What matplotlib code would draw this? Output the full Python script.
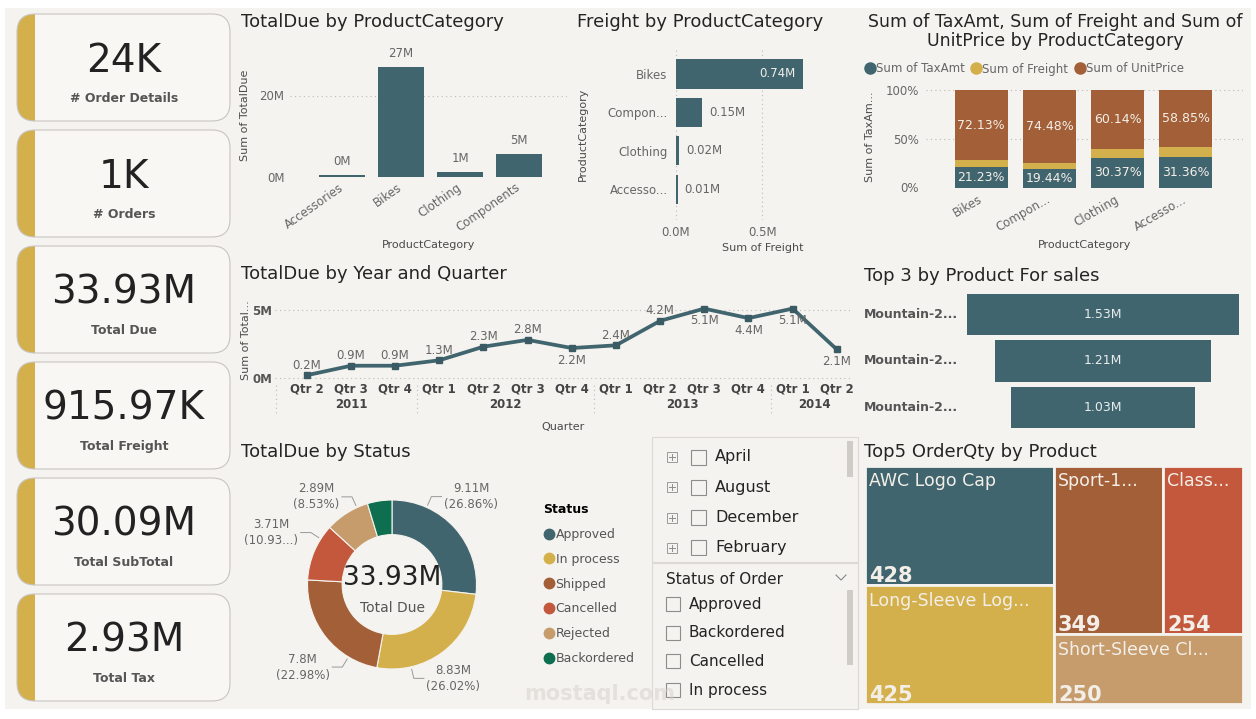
import numpy as np
import matplotlib.pyplot as plt
from matplotlib.patches import FancyBboxPatch, Rectangle
from matplotlib.lines import Line2D
from matplotlib.transforms import blended_transform_factory

plt.rcParams['font.family'] = ['DejaVu Sans']

kpi_values = ['24K', '1K', '33.93M', '915.97K', '30.09M', '2.93M']
kpi_labels = ['# Order Details', '# Orders', 'Total Due', 'Total Freight', 'Total SubTotal', 'Total Tax']

cat_names = ['Accessories', 'Bikes', 'Clothing', 'Components']
cat_totaldue = [0.45e6, 27.0e6, 1.05e6, 5.45e6]

freight_cats = ['Bikes', 'Compon...', 'Clothing', 'Accesso...']
freight_vals = [0.74e6, 0.15e6, 0.02e6, 0.01e6]

mix_cats = ['Bikes', 'Compon...', 'Clothing', 'Accesso...']
mix_tax = [21.23, 19.44, 30.37, 31.36]
mix_freight = [6.64, 6.08, 9.49, 9.79]
mix_unit = [72.13, 74.48, 60.14, 58.85]
mix_series = ['Sum of TaxAmt', 'Sum of Freight', 'Sum of UnitPrice']

quarters = ['Qtr 2', 'Qtr 3', 'Qtr 4', 'Qtr 1', 'Qtr 2', 'Qtr 3', 'Qtr 4',
            'Qtr 1', 'Qtr 2', 'Qtr 3', 'Qtr 4', 'Qtr 1', 'Qtr 2']
quarter_years = ['2011'] * 3 + ['2012'] * 4 + ['2013'] * 4 + ['2014'] * 2
due_quarter_m = [0.2, 0.9, 0.9, 1.3, 2.3, 2.8, 2.2, 2.4, 4.2, 5.1, 4.4, 5.1, 2.1]

top3_products = ['Mountain-2...', 'Mountain-2...', 'Mountain-2...']
top3_sales_m = [1.53, 1.21, 1.03]

status_names = ['Approved', 'In process', 'Shipped', 'Cancelled', 'Rejected', 'Backordered']
status_due_m = [9.11, 8.83, 7.8, 3.71, 2.89, 1.59]
status_pct_text = ['(26.86%)', '(26.02%)', '(22.98%)', '(10.93...)', '(8.53%)', '']

month_items = ['April', 'August', 'December', 'February']
status_items = ['Approved', 'Backordered', 'Cancelled', 'In process']

tree_names = ['AWC Logo Cap', 'Long-Sleeve Log...', 'Sport-1...', 'Class...', 'Short-Sleeve Cl...']
tree_qty = [428, 425, 349, 254, 250]

# ---- colours ----
PAGE = '#F5F3EF'
CARD = '#F8F7F4'
TEAL = '#41656F'
GOLD = '#D4B04C'
BROWN = '#A35F38'
RED = '#C3583D'
TAN = '#C69C6D'
GREEN = '#0D6E50'
TITLE = '#252423'
TICK = '#666666'
AXT = '#4A4A4A'
LIGHT = '#F3EFE8'

W, H = 1256, 719
fig = plt.figure(figsize=(W / 100, H / 100), dpi=100, facecolor='white')


def px_axes(x0, y0, x1, y1):
    ax = fig.add_axes([x0 / W, 1 - y1 / H, (x1 - x0) / W, (y1 - y0) / H])
    ax.set_facecolor('none')
    for s in ax.spines.values():
        s.set_visible(False)
    ax.tick_params(length=0, labelsize=8.5, labelcolor=TICK)
    return ax


def pt(px):
    return px * 0.72


# background layer in pixel coordinates
bg = fig.add_axes([0, 0, 1, 1], zorder=-10)
bg.set_xlim(0, W)
bg.set_ylim(H, 0)
bg.axis('off')
bg.add_patch(Rectangle((5, 8), 1246, 701, facecolor=PAGE, edgecolor='none'))

# ---- KPI cards ----
for i, (val, lab) in enumerate(zip(kpi_values, kpi_labels)):
    top = 14 + i * 116
    style = 'round,pad=0,rounding_size=18'
    bg.add_patch(FancyBboxPatch((17, top), 213, 107, boxstyle=style, facecolor=GOLD, edgecolor='none'))
    white = FancyBboxPatch((17, top), 213, 107, boxstyle=style, facecolor=CARD, edgecolor='none')
    bg.add_patch(white)
    white.set_clip_path(Rectangle((35, top - 2), 200, 112, transform=bg.transData))
    bg.add_patch(FancyBboxPatch((17, top), 213, 107, boxstyle=style, facecolor='none',
                                edgecolor='#C9C6C1', lw=0.8))
    bg.text(124, top + 58, val, fontsize=28, color='#222222', ha='center', va='baseline')
    bg.text(124, top + 88, lab, fontsize=9, fontweight='bold', color='#555555', ha='center', va='baseline')

# ---- titles ----
for x, y, t in [(241, 27, 'TotalDue by ProductCategory'), (577, 27, 'Freight by ProductCategory'),
                (241, 279, 'TotalDue by Year and Quarter'), (864, 281, 'Top 3 by Product For sales'),
                (241, 457, 'TotalDue by Status'), (864, 457, 'Top5 OrderQty by Product')]:
    bg.text(x, y, t, fontsize=13, color=TITLE, va='baseline')
bg.text(1055, 27, 'Sum of TaxAmt, Sum of Freight and Sum of', fontsize=12.5, color=TITLE, ha='center', va='baseline')
bg.text(1055, 46, 'UnitPrice by ProductCategory', fontsize=12.5, color=TITLE, ha='center', va='baseline')

# ---- TotalDue by ProductCategory ----
ax1 = px_axes(290, 55, 567, 176.5)
ax1.bar(range(len(cat_names)), cat_totaldue, width=0.78, color=TEAL)
ax1.set_xlim(-0.88, 3.81)
ax1.set_ylim(0, 30e6)
ax1.set_yticks([0, 20e6])
ax1.set_yticklabels(['0M', '20M'])
ax1.yaxis.grid(True, linestyle=(0, (1, 3)), color='#BBBBBB', lw=0.8)
ax1.set_axisbelow(True)
ax1.set_xticks(range(len(cat_names)))
ax1.set_xticklabels(cat_names, rotation=35, ha='right', va='center', rotation_mode='anchor')
ax1.tick_params(axis='x', pad=7)
ax1.tick_params(axis='y', pad=4)
for i, v in enumerate(cat_totaldue):
    ax1.annotate(f'{v / 1e6:.0f}M', (i, v), xytext=(0, 5), textcoords='offset points',
                 ha='center', va='bottom', fontsize=8.5, color=TICK)
ax1.set_ylabel('Sum of TotalDue', fontsize=8, color=AXT, labelpad=7)
ax1.set_xlabel('ProductCategory', fontsize=8, color=AXT, labelpad=4)

# ---- Freight by ProductCategory ----
ax2 = px_axes(676, 49, 850, 220)
ax2.barh(range(len(freight_cats)), freight_vals, height=0.76, color=TEAL)
ax2.set_ylim(3.8, -0.65)
ax2.set_xlim(0, 1.01e6)
ax2.set_yticks(range(len(freight_cats)))
ax2.set_yticklabels(freight_cats)
ax2.set_xticks([0, 0.5e6])
ax2.set_xticklabels(['0.0M', '0.5M'])
ax2.xaxis.grid(True, linestyle=(0, (1, 3)), color='#BBBBBB', lw=0.8)
ax2.set_axisbelow(True)
ax2.tick_params(axis='y', pad=6)
ax2.tick_params(axis='x', pad=4)
for i, v in enumerate(freight_vals):
    if v > 0.5 * max(freight_vals):
        ax2.annotate(f'{v / 1e6:.2f}M', (v, i), xytext=(-6, 0), textcoords='offset points',
                     ha='right', va='center', fontsize=8.5, color=LIGHT)
    else:
        ax2.annotate(f'{v / 1e6:.2f}M', (v, i), xytext=(5, 0), textcoords='offset points',
                     ha='left', va='center', fontsize=8.5, color=TICK)
ax2.set_xlabel('Sum of Freight', fontsize=8, color=AXT, labelpad=3)
ax2.set_ylabel('ProductCategory', fontsize=8, color=AXT, labelpad=14)

# ---- 100% stacked by ProductCategory ----
ax3 = px_axes(926, 85, 1243, 187.5)
x3 = np.arange(len(mix_cats))
bottom2 = np.array(mix_tax)
bottom3 = bottom2 + np.array(mix_freight)
ax3.bar(x3, mix_tax, width=0.776, color=TEAL)
ax3.bar(x3, mix_freight, bottom=bottom2, width=0.776, color=GOLD)
ax3.bar(x3, mix_unit, bottom=bottom3, width=0.776, color=BROWN)
ax3.set_xlim(-0.81, 3.84)
ax3.set_ylim(0, 105.2)
ax3.set_yticks([0, 50, 100])
ax3.set_yticklabels(['0%', '50%', '100%'])
ax3.yaxis.grid(True, linestyle=(0, (1, 3)), color='#BBBBBB', lw=0.8)
ax3.set_axisbelow(True)
ax3.set_xticks(x3)
ax3.set_xticklabels(mix_cats, rotation=30, ha='right', va='center', rotation_mode='anchor')
ax3.tick_params(axis='x', pad=8)
ax3.tick_params(axis='y', pad=5)
for i in range(len(mix_cats)):
    ax3.text(i, mix_tax[i] / 2, f'{mix_tax[i]:.2f}%', ha='center', va='center', fontsize=9, color=LIGHT)
    ax3.text(i, bottom3[i] + mix_unit[i] / 2, f'{mix_unit[i]:.2f}%', ha='center', va='center',
             fontsize=9, color=LIGHT)
ax3.set_ylabel('Sum of TaxAm...', fontsize=8, color=AXT, labelpad=8)
ax3.set_xlabel('ProductCategory', fontsize=8, color=AXT, labelpad=4)
handles3 = [Line2D([], [], marker='o', ls='', color=c, ms=8) for c in (TEAL, GOLD, BROWN)]
ax3.legend(handles3, mix_series, ncol=3, loc='center left', bbox_to_anchor=(864 / W, 1 - 69 / H),
           bbox_transform=fig.transFigure, frameon=False, handletextpad=0.0, columnspacing=0.5,
           handlelength=1.0, borderpad=0, borderaxespad=0, labelcolor=TICK, prop={'size': 8.5})

# ---- TotalDue by Year and Quarter ----
ax4 = px_axes(275, 298, 850, 383)
xq = np.arange(len(quarters))
ax4.plot(xq, due_quarter_m, color=TEAL, lw=2.7, marker='s', ms=4.5, mfc='#3B5B64', mec='#3B5B64',
         solid_joinstyle='round')
ax4.set_xlim(-0.72, 12.3)
ax4.set_ylim(-0.37, 5.88)
ax4.set_yticks([0, 5])
ax4.set_yticklabels(['0M', '5M'], fontweight='bold', color='#555555')
ax4.yaxis.grid(True, linestyle=(0, (1, 3)), color='#BBBBBB', lw=0.8)
ax4.set_axisbelow(True)
ax4.set_xticks(xq)
ax4.set_xticklabels(quarters, fontweight='bold', color='#444444')
ax4.tick_params(axis='x', pad=0)
ax4.tick_params(axis='y', pad=2)
label_side = [1, 1, 1, 1, 1, 1, -1, 1, 1, -1, -1, -1, -1]
for i, v in enumerate(due_quarter_m):
    ax4.annotate(f'{v:.1f}M', (i, v), xytext=(0, pt(10) if label_side[i] > 0 else -pt(12)),
                 textcoords='offset points', ha='center', va='center', fontsize=8.5, color=TICK)
years = sorted(set(quarter_years))
for yr in years:
    idx = [i for i, q in enumerate(quarter_years) if q == yr]
    ax4.annotate(yr, (np.mean(idx), 0), xycoords=('data', 'axes fraction'), xytext=(0, -pt(22)),
                 textcoords='offset points', ha='center', va='center', fontsize=8.5,
                 fontweight='bold', color='#444444')
bounds = [-0.7] + [i - 0.5 for i in range(1, len(quarter_years)) if quarter_years[i] != quarter_years[i - 1]]
for b in bounds:
    ax4.plot([b, b], [-0.02, -0.38], transform=blended_transform_factory(ax4.transData, ax4.transAxes),
             color='#BBBBBB', lw=0.8, ls=(0, (1, 3)), clip_on=False)
ax4.set_xlabel('Quarter', fontsize=8, color=AXT, labelpad=19)
ax4.set_ylabel('Sum of Total...', fontsize=8, color=AXT, labelpad=1)

# ---- Top 3 by Product (funnel) ----
ax5 = px_axes(967, 291, 1239, 431)
ax5.barh(range(3), top3_sales_m, left=[-v / 2 for v in top3_sales_m], height=0.88, color=TEAL)
ax5.set_xlim(-0.765, 0.765)
ax5.set_ylim(2.5, -0.5)
ax5.set_xticks([])
ax5.set_yticks([])
tr5 = blended_transform_factory(fig.transFigure, ax5.transData)
for i, (name, v) in enumerate(zip(top3_products, top3_sales_m)):
    ax5.text(0, i, f'{v:.2f}M', ha='center', va='center', fontsize=9, color='#E8ECEC')
    ax5.text(864 / W, i, name, transform=tr5, ha='left', va='center', fontsize=9,
             fontweight='bold', color='#555555')

# ---- TotalDue by Status (donut) ----
cx, cy = 392, 584.5
ax6 = px_axes(cx - 120, cy - 120, cx + 120, cy + 120)
status_colors = [TEAL, GOLD, BROWN, RED, TAN, GREEN]
ax6.pie(status_due_m, colors=status_colors, startangle=90, counterclock=False, radius=1,
        wedgeprops=dict(width=0.41, edgecolor=PAGE, linewidth=0.8))
ax6.set_xlim(-1.42, 1.42)
ax6.set_ylim(-1.42, 1.42)
ax6.text(0, 0.08, '33.93M', ha='center', va='center', fontsize=19, color='#222222')
ax6.text(0, -0.28, 'Total Due', ha='center', va='center', fontsize=10, color='#555555')
label_frac = [0.25, 0.75, 0.25, 0.75, 0.75]
total = sum(status_due_m)
start = 90.0
for i, v in enumerate(status_due_m):
    span = v / total * 360
    if i < len(label_frac):
        ang = np.deg2rad(start - span * label_frac[i])
        p0 = np.array([np.cos(ang), np.sin(ang)]) * 1.03
        p1 = np.array([np.cos(ang), np.sin(ang)]) * 1.14
        d = 1 if np.cos(ang) >= 0 else -1
        p2 = p1 + np.array([0.12 * d, 0])
        ax6.plot([p0[0], p1[0], p2[0]], [p0[1], p1[1], p2[1]], color='#999999', lw=0.7, clip_on=False)
        ax6.text(p2[0] + 0.03 * d, p2[1], f'{v:g}M\n{status_pct_text[i]}', ha='left' if d > 0 else 'right',
                 va='center', multialignment='center', fontsize=8.5, color=TICK, linespacing=1.3)
    start -= span
handles6 = [Line2D([], [], marker='o', ls='', color=c, ms=7.5) for c in status_colors]
fig.legend(handles6, status_names, loc='upper left', bbox_to_anchor=(543 / W, 1 - 503 / H),
           frameon=False, title='Status', alignment='left', handletextpad=0.0, handlelength=1.0,
           labelspacing=0.95, borderpad=0, borderaxespad=0, labelcolor='#555555', prop={'size': 9},
           title_fontproperties={'size': 9, 'weight': 'bold'})

# ---- slicers ----
bg.add_patch(Rectangle((652, 437), 206, 125, facecolor=PAGE, edgecolor='#DCD9D4', lw=0.8))
clip1 = Rectangle((652, 437), 206, 119, transform=bg.transData)
for j, m in enumerate(month_items):
    y = 457 + j * 30.3
    arts = [Rectangle((667, y - 5), 10, 10, facecolor='none', edgecolor='#9A9A9A', lw=0.7),
            Rectangle((691, y - 7.5), 15, 15, facecolor='none', edgecolor='#8C8C8C', lw=0.8)]
    for a in arts:
        bg.add_patch(a)
        a.set_clip_path(clip1)
    for xs, ys in [([669, 675], [y, y]), ([672, 672], [y - 3, y + 3])]:
        ln, = bg.plot(xs, ys, color='#8C8C8C', lw=0.7)
        ln.set_clip_path(clip1)
    t = bg.text(715, y, m, fontsize=11.5, color=TITLE, va='center')
    t.set_clip_path(clip1)
bg.add_patch(Rectangle((847, 441), 6, 36, facecolor='#CFCCC7', edgecolor='none'))

bg.add_patch(Rectangle((652, 563), 206, 146, facecolor=PAGE, edgecolor='#DCD9D4', lw=0.8))
bg.text(666, 580, 'Status of Order', fontsize=11, color=TITLE, va='center')
bg.plot([836, 841, 846], [575, 580, 575], color='#888888', lw=0.8)
bg.add_patch(Rectangle((847, 590), 6, 75, facecolor='#CFCCC7', edgecolor='none'))
for j, s in enumerate(status_items):
    y = 604 + j * 28.7
    bg.add_patch(Rectangle((666, y - 7), 14, 14, facecolor='none', edgecolor='#8C8C8C', lw=0.8))
    bg.text(689, y, s, fontsize=11, color=TITLE, va='center')

bg.text(600, 694, 'mostaql.com', fontsize=15, fontweight='bold', color='#D6D3CE', alpha=0.55,
        ha='center', va='center', zorder=5)

# ---- Top5 OrderQty treemap ----
ax7 = px_axes(865, 465.5, 1243, 704)
ax7.set_xlim(0, 1)
ax7.set_ylim(1, 0)
ax7.set_xticks([])
ax7.set_yticks([])
tree_colors = [TEAL, GOLD, BROWN, RED, TAN]
tree_layout = ('h', [('v', [0, 1]), ('v', [('h', [2, 3]), 4])])


def node_sum(node):
    if isinstance(node, int):
        return tree_qty[node]
    return sum(node_sum(c) for c in node[1])


def place(node, x, y, w, h, out):
    if isinstance(node, int):
        out[node] = (x, y, w, h)
        return
    direction, kids = node
    tot = node_sum(node)
    for k in kids:
        f = node_sum(k) / tot
        if direction == 'h':
            place(k, x, y, w * f, h, out)
            x += w * f
        else:
            place(k, x, y, w, h * f, out)
            y += h * f


rects = {}
place(tree_layout, 0, 0, 1, 1, rects)
for i in range(len(tree_qty)):
    x, y, w, h = rects[i]
    ax7.add_patch(Rectangle((x, y), w, h, facecolor=tree_colors[i], edgecolor=PAGE, lw=2))
    ax7.annotate(tree_names[i], (x, y), xytext=(pt(4), -pt(7)), textcoords='offset points',
                 ha='left', va='top', fontsize=12.5, color=LIGHT)
    ax7.annotate(str(tree_qty[i]), (x, y + h), xytext=(pt(4), pt(3)), textcoords='offset points',
                 ha='left', va='baseline', fontsize=15, fontweight='bold', color=LIGHT)

fig.savefig('out.png', dpi=100, facecolor=fig.get_facecolor())
